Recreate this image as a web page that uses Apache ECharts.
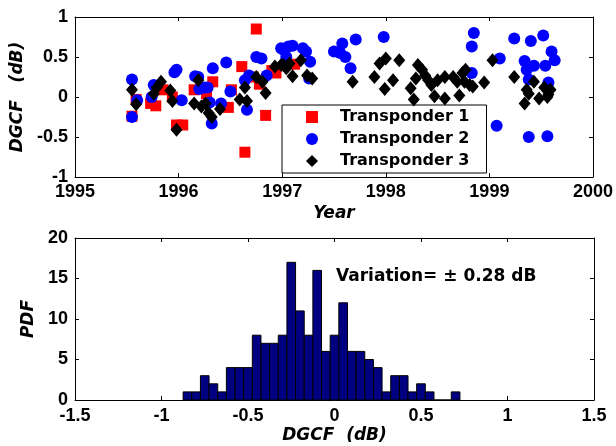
<!DOCTYPE html>
<html>
<head>
<meta charset="utf-8">
<script src="https://cdn.jsdelivr.net/npm/echarts@6/dist/echarts.min.js"></script>
<style>
html, body { margin: 0; padding: 0; background: #fff; }
#chart { width: 616px; height: 446px; }
</style>
</head>
<body>
<div id="chart"></div>
<script>
// [year, DGCF dB]
const transponder_1 = [
    [1995.55, -0.24], [1995.59, -0.03], [1995.73, -0.08], [1995.78, -0.11], [1995.85, 0.09],
    [1995.94, 0.0], [1995.98, -0.35], [1996.04, -0.35], [1996.15, 0.09], [1996.27, 0.04],
    [1996.33, 0.19], [1996.48, -0.13], [1996.51, 0.09], [1996.61, 0.38], [1996.64, -0.69],
    [1996.72, 0.25], [1996.75, 0.85], [1996.78, 0.16], [1996.84, -0.23], [1996.9, 0.33],
    [1996.94, 0.3], [1997.12, 0.41]
];
const transponder_2 = [
    [1995.55, 0.22], [1995.55, -0.25], [1995.6, -0.04], [1995.74, 0.0], [1995.76, 0.15],
    [1995.96, 0.31], [1995.98, 0.34], [1996.03, -0.04], [1996.16, 0.26], [1996.19, 0.25],
    [1996.2, 0.1], [1996.25, 0.12], [1996.28, 0.12], [1996.3, -0.07], [1996.32, -0.33],
    [1996.33, 0.36], [1996.41, -0.08], [1996.46, 0.43], [1996.5, 0.07], [1996.64, 0.21],
    [1996.66, -0.16], [1996.68, 0.27], [1996.75, 0.5], [1996.8, 0.48], [1996.85, 0.27],
    [1996.99, 0.61], [1997.01, 0.59], [1997.04, 0.5], [1997.06, 0.63], [1997.1, 0.64],
    [1997.2, 0.61], [1997.23, 0.57], [1997.26, 0.23], [1997.27, 0.44], [1997.5, 0.57],
    [1997.56, 0.55], [1997.58, 0.67], [1997.61, 0.5], [1997.66, 0.36], [1997.71, 0.72],
    [1997.98, 0.75], [1998.83, 0.3], [1998.83, 0.63], [1998.85, 0.8], [1999.07, -0.36],
    [1999.1, 0.48], [1999.24, 0.73], [1999.34, 0.45], [1999.36, 0.34], [1999.38, 0.22],
    [1999.38, -0.5], [1999.4, 0.7], [1999.43, 0.39], [1999.52, 0.77], [1999.54, 0.39],
    [1999.56, -0.49], [1999.57, 0.18], [1999.6, 0.57], [1999.63, 0.46]
];
const transponder_3 = [
    [1995.55, 0.09], [1995.59, -0.09], [1995.76, 0.04], [1995.79, 0.12], [1995.83, 0.19],
    [1995.92, 0.08], [1995.94, -0.05], [1995.98, -0.41], [1996.15, -0.08], [1996.19, 0.21],
    [1996.22, -0.12], [1996.26, -0.08], [1996.29, -0.2], [1996.32, -0.25], [1996.4, -0.15],
    [1996.59, -0.03], [1996.64, 0.12], [1996.66, -0.05], [1996.75, 0.25], [1996.81, 0.19],
    [1996.84, 0.05], [1996.93, 0.38], [1996.99, 0.4], [1997.01, 0.4], [1997.04, 0.36],
    [1997.07, 0.42], [1997.1, 0.26], [1997.18, 0.46], [1997.24, 0.27], [1997.29, 0.23],
    [1997.68, 0.19], [1997.89, 0.25], [1997.94, 0.42], [1998.0, 0.48], [1997.99, 0.1],
    [1998.07, 0.21], [1998.13, 0.46], [1998.24, 0.11], [1998.27, -0.03], [1998.29, 0.23],
    [1998.31, 0.4], [1998.35, 0.34], [1998.38, 0.27], [1998.41, 0.21], [1998.44, 0.15],
    [1998.47, 0.01], [1998.5, 0.21], [1998.57, 0.25], [1998.57, -0.02], [1998.65, 0.25],
    [1998.69, 0.19], [1998.71, 0.02], [1998.76, 0.19], [1998.77, 0.34], [1998.74, 0.3],
    [1998.81, 0.15], [1998.84, 0.13], [1998.95, 0.18], [1999.03, 0.46], [1999.24, 0.25],
    [1999.34, -0.08], [1999.36, 0.09], [1999.38, 0.04], [1999.43, 0.19], [1999.48, -0.02],
    [1999.53, 0.12], [1999.56, 0.0], [1999.57, 0.03], [1999.59, 0.09]
];

const bin_centers = [
    -0.85, -0.8, -0.75, -0.7, -0.65, -0.6, -0.55, -0.5, -0.45, -0.4, -0.35, -0.3, -0.25, -0.2, -0.15, -0.1,
    -0.05, 0.0, 0.05, 0.1, 0.15, 0.2, 0.25, 0.3, 0.35, 0.4, 0.45, 0.5, 0.55, 0.6, 0.65, 0.7
];
const bin_counts = [
    1, 1, 3, 2, 1, 4, 4, 4, 8, 7, 7, 8, 17, 11, 8, 16,
    6, 8, 12, 6, 6, 5, 4, 1, 3, 3, 1, 2, 1, 0, 0, 1
];
const bin_width = 0.05;

const year_ticks = [1995, 1996, 1997, 1998, 1999, 2000];
const dgcf_ticks = [-1, -0.5, 0, 0.5, 1];
const hist_ticks = [-1.5, -1, -0.5, 0, 0.5, 1, 1.5];
const pdf_ticks = [0, 5, 10, 15, 20];

const variation_text = "Variation= \u00b1 0.28 dB";

const tick_font = {
    color: "#000",
    fontFamily: "Arial, 'Liberation Sans'",
    fontWeight: "bold",
    fontSize: 18,
};
const name_font = {
    color: "#000",
    fontFamily: "'DejaVu Sans'",
    fontWeight: "bold",
    fontStyle: "italic",
    fontSize: 17,
};

const make_axis = function (grid, position, ticks, show_label, margin) {
    return {
        type: "value",
        gridIndex: grid,
        position: position,
        min: ticks[0],
        max: ticks[ticks.length - 1],
        interval: ticks[1] - ticks[0],
        splitLine: { show: false },
        axisLine: { show: true, onZero: false, lineStyle: { color: "#000", width: 1 } },
        axisTick: { show: true, inside: true, length: 4, lineStyle: { color: "#000" } },
        axisLabel: {
            show: show_label,
            margin: margin,
            formatter: (v) => String(v),
            ...tick_font,
        },
    };
};

const hist_item = function (params, api) {
    const c = api.value(0);
    const n = api.value(1);
    const p0 = api.coord([c - bin_width / 2, n]);
    const p1 = api.coord([c + bin_width / 2, 0]);
    return {
        type: "rect",
        shape: { x: p0[0], y: p0[1], width: p1[0] - p0[0], height: p1[1] - p0[1] },
        style: { fill: "#000080", stroke: "#000", lineWidth: 1 },
    };
};

const x_year = make_axis(0, "bottom", year_ticks, true, 6);
x_year.name = "Year";
x_year.nameLocation = "middle";
x_year.nameGap = 28;
x_year.nameTextStyle = name_font;

const y_dgcf = make_axis(0, "left", dgcf_ticks, true, 7);
y_dgcf.name = "DGCF   (dB)";
y_dgcf.nameLocation = "middle";
y_dgcf.nameGap = 44;
y_dgcf.nameTextStyle = name_font;

const x_hist = make_axis(1, "bottom", hist_ticks, true, 7);
x_hist.name = "DGCF  (dB)";
x_hist.nameLocation = "middle";
x_hist.nameGap = 27;
x_hist.nameTextStyle = name_font;

const y_pdf = make_axis(1, "left", pdf_ticks, true, 7);
y_pdf.name = "PDF";
y_pdf.nameLocation = "middle";
y_pdf.nameGap = 34;
y_pdf.nameTextStyle = name_font;

const config = {
    animation: false,
    backgroundColor: "#fff",
    grid: [
        { left: 75, right: 22, top: 17, height: 160 },
        { left: 75, right: 22, top: 238, height: 162 },
    ],
    xAxis: [
        x_year,
        make_axis(0, "top", year_ticks, false, 0),
        x_hist,
        make_axis(1, "top", hist_ticks, false, 0),
    ],
    yAxis: [
        y_dgcf,
        make_axis(0, "right", dgcf_ticks, false, 0),
        y_pdf,
        make_axis(1, "right", pdf_ticks, false, 0),
    ],
    legend: {
        orient: "vertical",
        left: 282,
        top: 105,
        padding: [4, 17, 4, 24],
        itemGap: 6,
        itemWidth: 12,
        itemHeight: 12,
        backgroundColor: "#fff",
        borderColor: "#000",
        borderWidth: 1,
        borderRadius: 0,
        selectedMode: false,
        textStyle: {
            color: "#000",
            fontFamily: "'DejaVu Sans'",
            fontWeight: "bold",
            fontSize: 16,
            lineHeight: 16,
            padding: [0, 0, 0, 17],
        },
        data: [
            { name: "Transponder 1", icon: "rect" },
            { name: "Transponder 2", icon: "circle" },
            { name: "Transponder 3", icon: "diamond" },
        ],
    },
    graphic: [
        {
            type: "text",
            left: 336,
            top: 268,
            style: {
                text: variation_text,
                fill: "#000",
                font: "bold 17px 'DejaVu Sans'",
            },
        },
    ],
    series: [
        {
            name: "Transponder 1",
            type: "scatter",
            xAxisIndex: 0,
            yAxisIndex: 0,
            symbol: "rect",
            symbolSize: 11,
            itemStyle: { color: "#ff0000", opacity: 1 },
            data: transponder_1,
            z: 2,
        },
        {
            name: "Transponder 2",
            type: "scatter",
            xAxisIndex: 0,
            yAxisIndex: 0,
            symbol: "circle",
            symbolSize: 12,
            itemStyle: { color: "#0000ff", opacity: 1 },
            data: transponder_2,
            z: 3,
        },
        {
            name: "Transponder 3",
            type: "scatter",
            xAxisIndex: 0,
            yAxisIndex: 0,
            symbol: "diamond",
            symbolSize: [12, 14],
            itemStyle: { color: "#000000", opacity: 1 },
            data: transponder_3,
            z: 4,
        },
        {
            name: "PDF",
            type: "custom",
            xAxisIndex: 2,
            yAxisIndex: 2,
            renderItem: hist_item,
            data: bin_centers.map((c, i) => [c, bin_counts[i]]),
        },
    ],
};

const echart_instance = echarts.init(document.getElementById("chart"), null, { renderer: "canvas" });
echart_instance.setOption(config);
</script>
</body>
</html>
